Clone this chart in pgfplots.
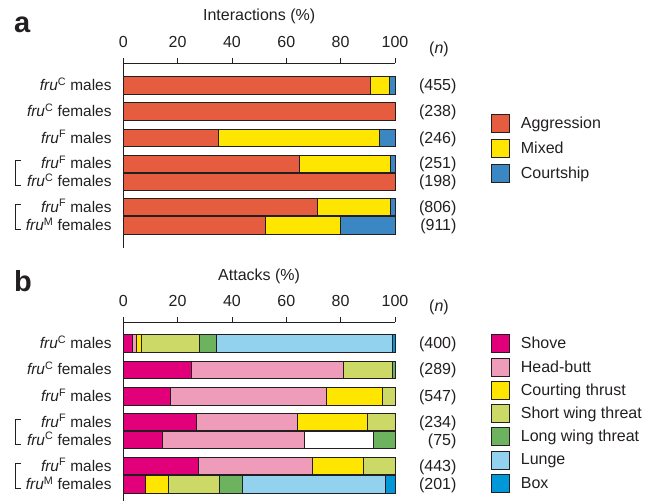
\documentclass[border=0pt]{standalone}
\usepackage{fontspec}
\setmainfont{Liberation Sans}
\usepackage{pgfplots}
\usepackage{pgfplotstable}
\pgfplotsset{compat=1.18}

\definecolor{cAgg}{HTML}{E65C3E}
\definecolor{cMix}{HTML}{FFE600}
\definecolor{cCou}{HTML}{3A87C4}
\definecolor{cShove}{HTML}{E2007A}
\definecolor{cHead}{HTML}{EE9CBA}
\definecolor{cThrust}{HTML}{FFE600}
\definecolor{cShort}{HTML}{CDD966}
\definecolor{cLong}{HTML}{6DB35F}
\definecolor{cLunge}{HTML}{93D2EE}
\definecolor{cBox}{HTML}{0098D8}
\definecolor{txt}{HTML}{231F20}

\newcommand\fs{\fontsize{16bp}{18bp}\selectfont}
\newcommand\fsy{\fontsize{15.4bp}{18bp}\selectfont}
\newcommand\fru[1]{\textit{fru}\textsuperscript{#1}}
\tikzset{nlab/.style={anchor=base east, font=\fs, text=txt, inner sep=0pt}}

% Panel a: interactions (%)
\pgfplotstableread{
y       agg    mix    cou
-85.5   91.0   6.9    2.1
-111.3  100.0  0.0    0.0
-138.0  35.0   59.2   5.8
-163.7  65.0   33.5   1.5
-181.7  100.0  0.0    0.0
-207.0  71.4   27.1   1.5
-225.3  52.4   27.6   20.0
}\tabA

% Panel b: attacks (%)
\pgfplotstableread{
y       shove  head   thrust  short  white  long  lunge  box
-343.3  3.2    1.8    1.8     21.2   0.0    6.1   64.9   1.0
-369.7  25.2   55.8   0.0     18.0   0.0    1.0   0.0    0.0
-396.3  17.5   57.3   20.5    4.7    0.0    0.0   0.0    0.0
-422.0  27.0   37.0   25.8    10.2   0.0    0.0   0.0    0.0
-440.0  14.4   52.2   0.0     0.0    25.4   8.0   0.0    0.0
-466.0  27.7   41.9   18.7    11.7   0.0    0.0   0.0    0.0
-484.3  8.3    0.0    8.4     18.8   0.0    8.5   52.3   3.7
}\tabB

\pgfplotsset{
  panel/.style={
    x=2.7167bp, y=1bp, xmin=0, xmax=100,
    xbar stacked, bar width=17.4bp,
    axis x line*=top, axis y line*=left,
    axis line style={-, draw=txt, line width=0.8bp},
    xtick={0,20,40,60,80,100},
    tick align=outside, major tick length=5bp,
    xtick style={draw=txt, line width=0.8bp},
    ytick style={draw=none},
    /pgf/number format/assume math mode=true,
    xticklabel style={font=\fs, text=txt, inner sep=0pt, anchor=base, yshift=10.8bp},
    yticklabel style={font=\fsy, text=txt, inner sep=0pt, anchor=base east, xshift=-6.6bp, yshift=-5bp},
    title style={at={(0.5,1)}, anchor=base, yshift=36.3bp, inner sep=0pt, font=\fs, text=txt},
    clip=false,
    every axis plot/.append style={draw=txt, line width=0.8bp},
    legend style={draw=none, fill=none, inner sep=0pt, outer sep=0pt, anchor=north west,
      font=\fs, text=txt, cells={anchor=west}, nodes={inner sep=0pt},
      /tikz/every odd column/.append style={column sep=11.5bp}},
    legend image code/.code={\draw[##1,draw=txt,line width=0.8bp] (0bp,-9bp) rectangle (18bp,9bp);},
  }
}

\begin{document}
\begin{tikzpicture}
\useasboundingbox (0,0) rectangle (654bp,-502bp);

% ---------- panel a ----------
\begin{axis}[panel,
  at={(123.3bp,-248bp)}, anchor=south west,
  ymin=-248, ymax=-63,
  ytick={-85.5,-111.3,-138,-163.7,-181.7,-207,-225.3},
  yticklabels={{\fru{C} males},{\fru{C} females},{\fru{F} males},{\fru{F} males},{\fru{C} females},{\fru{F} males},{\fru{M} females}},
  title={Interactions (\%)},
  legend style={at={(1.352,0.7243)}, row sep=6.2bp},
]
\addplot[fill=cAgg] table[x=agg,y=y]{\tabA};
\addplot[fill=cMix] table[x=mix,y=y]{\tabA};
\addplot[fill=cCou] table[x=cou,y=y]{\tabA};
\legend{Aggression,Mixed,Courtship}
\node[anchor=base, font=\fs, text=txt, inner sep=0pt] at (axis cs:116.2,-53) {(\textit{n})};
\node[nlab] at (axis cs:122.7,-90.5) {(455)};
\node[nlab] at (axis cs:122.7,-116.3) {(238)};
\node[nlab] at (axis cs:122.7,-143) {(246)};
\node[nlab] at (axis cs:122.7,-168.7) {(251)};
\node[nlab] at (axis cs:122.7,-186.7) {(198)};
\node[nlab] at (axis cs:122.7,-212) {(806)};
\node[nlab] at (axis cs:122.7,-230.3) {(911)};
\end{axis}

% ---------- panel b ----------
\begin{axis}[panel,
  at={(123.3bp,-501bp)}, anchor=south west,
  ymin=-501, ymax=-322.3,
  ytick={-343.3,-369.7,-396.3,-422,-440,-466,-484.3},
  yticklabels={{\fru{C} males},{\fru{C} females},{\fru{F} males},{\fru{F} males},{\fru{C} females},{\fru{F} males},{\fru{M} females}},
  title={Attacks (\%)},
  legend style={at={(1.352,0.933)}, row sep=4.5bp},
]
\addplot[fill=cShove] table[x=shove,y=y]{\tabB};
\addplot[fill=cHead] table[x=head,y=y]{\tabB};
\addplot[fill=cThrust] table[x=thrust,y=y]{\tabB};
\addplot[fill=cShort] table[x=short,y=y]{\tabB};
\addplot[fill=white, forget plot] table[x=white,y=y]{\tabB};
\addplot[fill=cLong] table[x=long,y=y]{\tabB};
\addplot[fill=cLunge] table[x=lunge,y=y]{\tabB};
\addplot[fill=cBox] table[x=box,y=y]{\tabB};
\legend{Shove,Head-butt,Courting thrust,Short wing threat,Long wing threat,Lunge,Box}
\node[anchor=base, font=\fs, text=txt, inner sep=0pt] at (axis cs:116.2,-311.7) {(\textit{n})};
\node[nlab] at (axis cs:122.7,-348.3) {(400)};
\node[nlab] at (axis cs:122.7,-374.7) {(289)};
\node[nlab] at (axis cs:122.7,-401.3) {(547)};
\node[nlab] at (axis cs:122.7,-427) {(234)};
\node[nlab] at (axis cs:122.7,-445) {(75)};
\node[nlab] at (axis cs:122.7,-471) {(443)};
\node[nlab] at (axis cs:122.7,-489.3) {(201)};
\end{axis}

% panel letters
\node[anchor=base west, inner sep=0pt, font=\fontsize{29bp}{30bp}\selectfont\bfseries, text=txt] at (14bp,-32bp) {a};
\node[anchor=base west, inner sep=0pt, font=\fontsize{29bp}{30bp}\selectfont\bfseries, text=txt] at (14bp,-291.7bp) {b};

% brackets
\draw[txt, line width=0.8bp] (20.7bp,-160.5bp) -- (15bp,-160.5bp) -- (15bp,-185.5bp) -- (20.7bp,-185.5bp);
\draw[txt, line width=0.8bp] (20.7bp,-204bp) -- (15bp,-204bp) -- (15bp,-229.5bp) -- (20.7bp,-229.5bp);
\draw[txt, line width=0.8bp] (20.7bp,-419bp) -- (15bp,-419bp) -- (15bp,-444bp) -- (20.7bp,-444bp);
\draw[txt, line width=0.8bp] (20.7bp,-463bp) -- (15bp,-463bp) -- (15bp,-488.5bp) -- (20.7bp,-488.5bp);
\end{tikzpicture}
\end{document}
